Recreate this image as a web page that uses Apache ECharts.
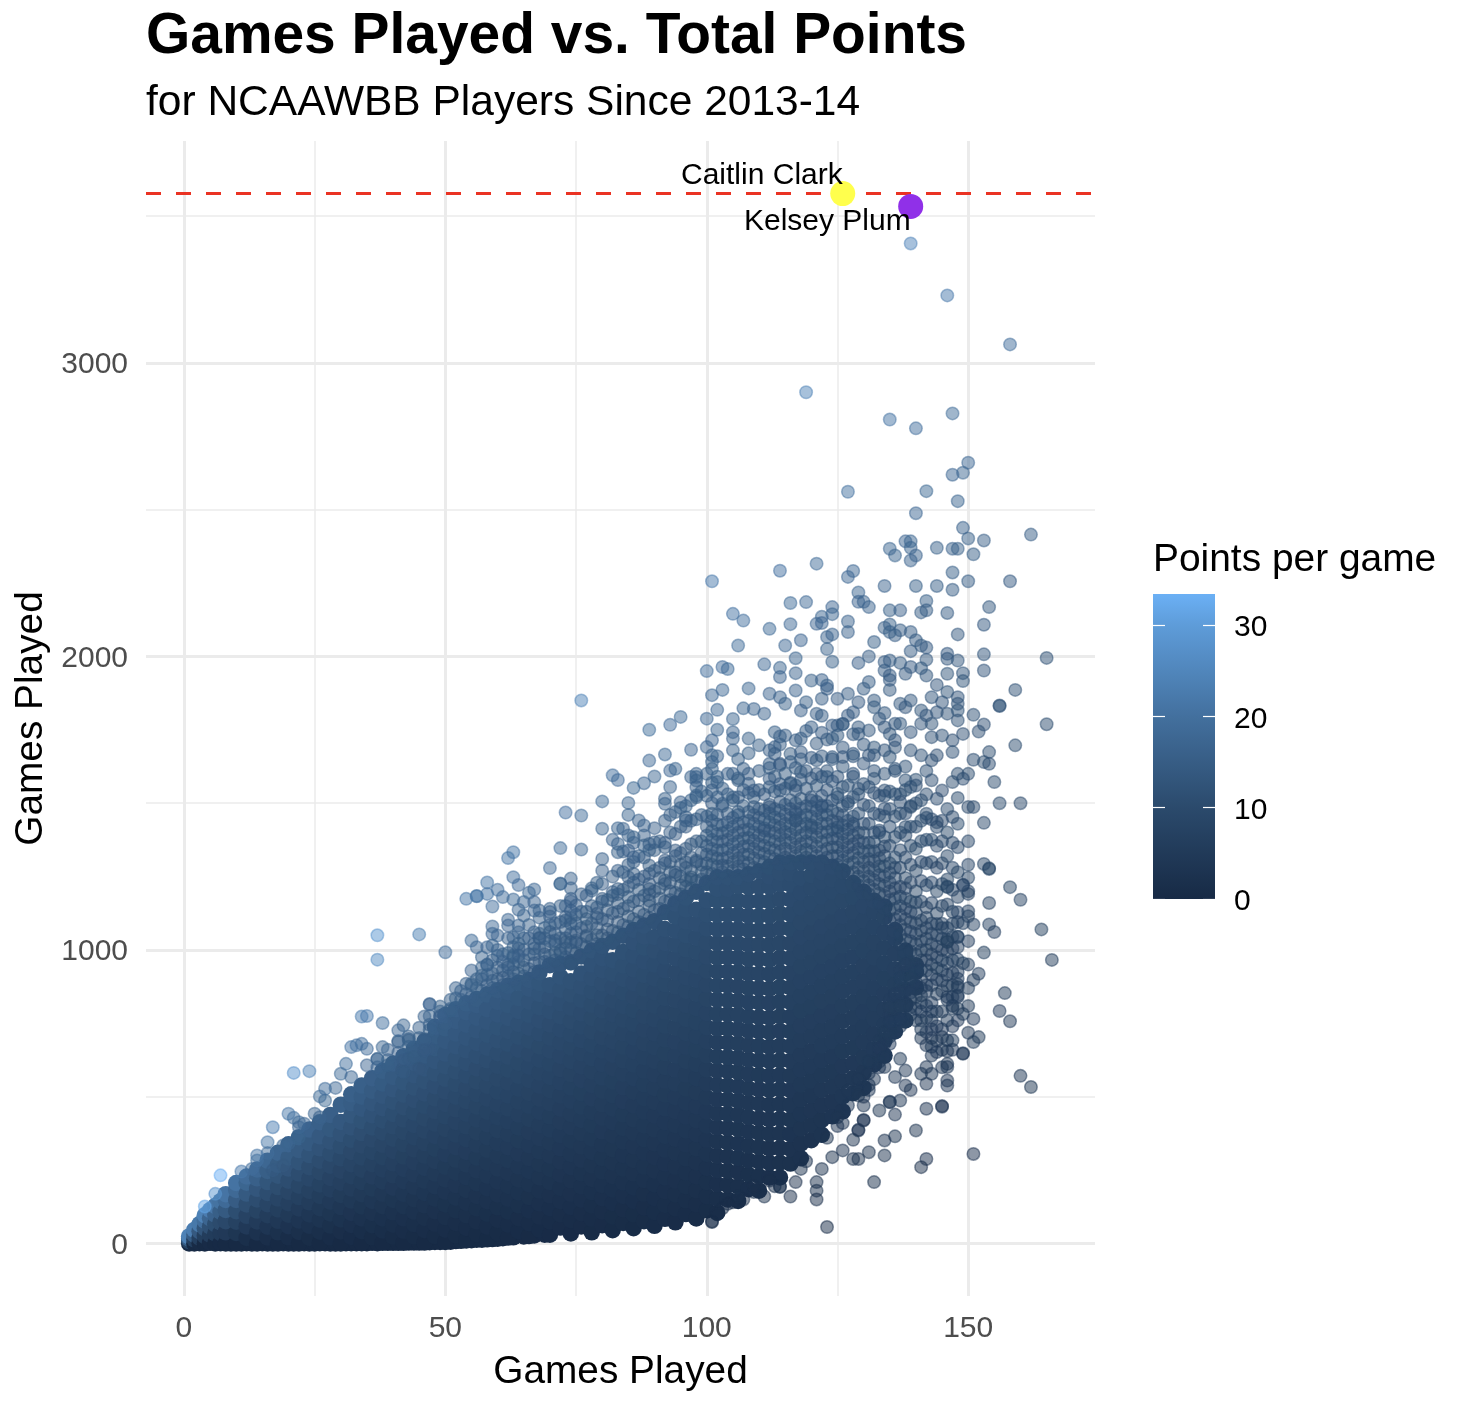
<!DOCTYPE html>
<html><head><meta charset="utf-8">
<style>html,body{margin:0;padding:0;background:#fff}#c{width:1460px;height:1402px}</style>
<script src="https://cdn.jsdelivr.net/npm/echarts@6/dist/echarts.min.js"></script>
</head><body><div id="c"></div>
<script>
const xMajorTicks=[0,50,100,150];
const xMinorTicks=[25,75,125];
const yMajorTicks=[0,1000,2000,3000];
const yMinorTicks=[500,1500,2500,3500];
const legendTicks=[0,10,20,30];
const ppgStops=[[0,'#172a45'],[10,'#2b4a6c'],[20,'#43709e'],[30,'#5e9cd9'],[33.4,'#6bb0f5']];
const clark=[126,3577];
const plum=[139,3533];
const referenceLine=3577;

// Dense cloud: individual players cannot be told apart there, so these rows are
// hand-typed estimates of the filled region, one row per games value: [games, totals...].
const zeroBand=[9,0,11,0,12,1,13,0,15,1,16,0,17,0,19,1,20,0,21,0,23,1,24,0,25,0,27,1,28,0,29,0,31,1,32,1,33,1,35,1,36,2,37,1,39,2,40,2,41,2,43,3,44,3,45,3,47,4,48,5,49,5,51,6,52,8,53,9,55,11,56,13,57,13,59,15,60,16,61,18,63,21,65,24,67,27,69,30];
const coreRows=[
[1,0,8,16,24],[2,0,14,30,46],[3,1,20,42,66],[4,0,26,52,78,96],[5,2,30,58,86,114],[6,0,34,66,98,128],[7,1,36,72,108,144],[8,0,38,76,114,148,168],
[10,0,36,74,110,148,182,206],[12,19,58,94,133,170,207,228],[14,0,37,75,112,150,186,222,252],[16,20,57,96,134,172,209,247,282],
[18,0,38,77,116,153,192,231,268,309],[20,21,59,98,137,176,214,255,293,338],[22,0,39,78,119,158,197,238,277,318,362],[24,19,60,99,140,179,221,260,301,342,388],
[26,1,40,81,120,162,201,243,282,324,365,413],[28,20,61,102,142,184,223,265,306,347,389,438],[30,0,41,82,124,165,207,248,290,331,373,414,473],[32,22,63,104,146,187,229,270,312,353,395,436,478,508],
[34,1,42,85,126,168,209,251,293,334,376,417,459,500,538],[36,21,62,104,145,187,228,270,312,354,395,437,478,520,563],[38,2,44,85,127,169,211,252,294,336,378,419,461,503,545,588],[40,23,64,106,148,190,232,273,315,357,399,441,483,525,567,613],
[42,2,43,85,127,169,212,254,296,338,380,422,464,507,549,591,638],[44,24,66,108,151,193,235,277,320,362,404,446,489,531,573,615,663],[46,3,45,87,130,172,214,257,299,342,384,426,469,511,553,596,640,688],[48,25,67,110,153,195,238,281,323,366,408,451,494,536,579,622,665,705,738],
[50,5,47,90,133,176,218,261,304,347,390,433,475,518,561,604,647,690,733,778],[52,27,70,113,156,199,242,285,328,371,414,457,500,543,586,629,672,715,758,798],[54,10,53,96,139,182,226,269,312,355,399,442,485,528,572,615,658,701,745,788,818],[56,32,75,119,162,205,249,292,336,379,422,466,509,552,596,639,683,726,769,812,833],
[58,14,57,101,144,188,231,275,319,362,406,449,493,537,580,624,667,711,755,798,848],[60,36,80,123,167,211,255,298,342,386,430,473,517,561,605,648,692,736,780,823,863],[62,20,64,108,152,196,240,284,328,372,416,460,504,548,592,636,680,724,768,812,856,878],[64,42,86,130,174,218,262,306,351,395,439,483,527,571,615,660,704,748,792,836,888],
[66,25,69,113,158,202,247,291,335,380,424,469,513,557,602,646,691,735,779,824,868,898],[68,47,91,136,180,225,270,314,359,403,448,493,537,582,626,671,716,760,805,850,887,923],[70,30,75,120,164,209,254,299,343,388,433,478,522,567,612,657,701,746,791,836,880,948],[72,54,99,144,189,234,279,324,369,414,459,504,549,594,639,684,729,774,819,864,909,953],
[74,34,79,124,169,215,260,305,350,396,441,486,531,577,622,667,712,758,803,848,893,958],[76,58,103,149,194,239,285,330,376,421,466,512,557,603,648,693,739,784,830,875,920,978],[78,38,84,129,175,220,266,312,357,403,448,494,540,585,631,676,722,768,813,859,904,950,998],[80,62,108,154,199,245,291,337,382,428,474,520,565,611,657,703,748,794,840,886,931,972,1013],
[82,45,91,137,183,229,275,321,367,413,459,505,551,597,643,689,735,781,827,873,919,965,1028],[84,70,116,162,208,255,301,347,393,439,485,532,578,624,670,716,762,809,855,901,947,993,1048],[86,52,99,145,191,238,284,331,377,423,470,516,563,609,655,702,748,795,841,887,934,980,1026,1068],[88,76,122,169,216,262,309,355,402,449,495,542,588,635,682,728,775,821,868,915,961,1008,1046,1083],
[90,60,107,154,201,248,294,341,388,435,482,529,575,622,669,716,763,810,856,903,950,997,1044,1098],[92,84,131,178,225,272,319,366,413,460,507,554,601,648,695,742,789,836,883,930,977,1024,1071,1128],[94,72,119,167,214,261,309,356,403,451,498,545,592,640,687,734,782,829,876,923,971,1018,1065,1113,1158],[96,100,147,195,242,290,337,385,432,480,527,575,622,670,717,765,812,860,907,955,1002,1050,1097,1138,1178],
[98,85,133,181,228,276,324,372,420,467,515,563,611,659,706,754,802,850,898,945,993,1041,1089,1137,1198],[100,113,161,209,257,305,353,401,449,497,545,593,641,689,737,785,833,881,929,977,1025,1073,1121,1169,1228],[102,105,153,202,250,298,347,395,443,491,540,588,636,685,733,781,830,878,926,974,1023,1071,1119,1168,1208,1248],[104,150,199,247,296,344,393,441,490,538,587,635,684,732,781,829,878,926,975,1023,1072,1120,1169,1208,1248],
[106,145,194,243,291,340,389,438,486,535,584,632,681,730,779,827,876,925,974,1022,1071,1120,1168,1217,1248],[108,185,234,283,332,381,430,479,528,577,626,675,724,773,822,871,920,969,1018,1067,1116,1165,1214,1258],[110,180,229,279,328,377,426,476,525,574,624,673,722,771,821,870,919,969,1018,1067,1116,1166,1215,1268],[112,225,274,324,373,423,472,522,571,621,670,720,769,819,868,918,967,1017,1066,1116,1165,1215,1250,1283],
[114,225,275,325,375,425,475,525,574,624,674,724,774,824,874,924,974,1024,1074,1124,1174,1224,1262,1298],[116,272,322,372,422,472,522,572,622,672,722,772,822,872,922,972,1022,1072,1122,1172,1222,1260,1298],[118,290,340,391,441,491,541,592,642,692,742,793,843,893,943,994,1044,1094,1144,1195,1245,1298],[120,352,403,453,504,554,605,655,706,756,807,857,908,958,1009,1059,1110,1160,1211,1255,1298],
[122,370,421,471,522,573,624,674,725,776,826,877,928,979,1029,1080,1131,1181,1232,1265,1298],[124,433,484,535,586,637,688,739,790,841,892,943,994,1045,1096,1147,1198,1240,1283],[126,450,501,553,604,655,706,758,809,860,911,963,1014,1065,1116,1168,1218,1268],[128,512,564,615,667,718,770,821,873,924,976,1027,1079,1130,1180,1228],
[130,530,582,634,686,738,789,841,893,945,997,1048,1100,1150,1198],[132,610,662,714,766,818,870,922,974,1026,1078,1130,1168],[134,640,692,745,797,850,902,955,1007,1060,1112,1148],[136,722,775,828,881,934,987,1040,1068],[138,760,813,866,920,973,998],[140,872,925,948]
];

// Thinner layers around the filled region, same row format.
const midRows=[
[37,600,628],[39,625,660],[41,650,690],[43,670,705],[45,700,735],[47,745,775],[49,790],[51,800,830],[53,830,860],[55,840,880,930],[57,860,900,940],[59,870,920,965],[61,880,930,985],[63,900,950,1010],[65,910,965,1040],[67,925,985,1060],[69,960,1010,1075],[71,965,1020,1090],[73,975,1040,1100,1150],[75,990,1060,1120],[77,1010,1080,1130],[79,1020,1075,1145],[81,1040,1100,1170],[83,1060,1130,1190,1270],[85,1080,1150,1215,1290],[87,1095,1170,1240,1320],[89,1110,1190,1260,1340],[91,1140,1210,1280,1370],[93,1170,1230,1300,1400,1460],[95,1190,1250,1330,1420],[97,1210,1270,1360,1440,1510],[99,1240,1290,1370,1460,1540],
[101,1260,1320,1375,1440,1500,1570],[103,1265,1310,1370,1425,1490,1550],[105,1270,1330,1390,1450,1520],[107,1275,1325,1380,1435,1490,1545],[109,1280,1345,1400,1460,1520],[111,1300,1355,1415,1475,1530],[113,1310,1370,1425,1480,1540,1590],[115,1315,1375,1430,1495,1550],[117,1320,1380,1440,1500,1560,1620],[119,1315,1370,1430,1490,1550,1610],[121,1320,1385,1445,1505,1560],[123,1315,1375,1430,1490,1545,1610],[125,1290,1350,1405,1465,1520,1590],[127,1260,1320,1380,1440,1505,1560],[129,1220,1280,1345,1400,1465,1530],[131,1190,1250,1310,1365,1430,1490,1555],[133,1160,1225,1285,1340,1400,1460,1525],[135,1100,1170,1230,1295,1355,1420,1480,1540],[137,1020,1085,1150,1215,1280,1340,1400,1465,1530],[139,960,1030,1095,1165,1230,1290,1355,1420,1490,1555],[141,900,965,1030,1100,1165,1235,1300,1370,1440,1510],[143,880,950,1020,1090,1160,1230,1300,1375,1445],[145,860,930,1000,1075,1150,1225,1295,1370,1440],[147,800,880,965,1045,1130,1205,1280,1365],
[125,400,430],[127,470,520],[129,520,560],[131,540,580,620],[133,600,640,690],[135,680,730,780,830],[137,740,790,830,880,930],[139,780,830,880,930],[141,700,760,820,870],[143,640,700,760,820],[145,600,660,730,790],[147,660,740,810],
[101,75],[103,120],[105,140],[107,150],[109,175],[113,195],[119,280],[123,360],
[52,835,870],[54,850,885],[56,870,900],[58,880,915,950],[60,900,940,980],[62,910,950,990,1040],[64,920,960,1005,1060],[66,935,985,1040,1085],[68,960,1005,1055,1110],[70,980,1030,1085,1140],[72,990,1040,1095,1150],[74,1000,1055,1110,1165,1210],[76,1020,1075,1130,1190],[78,1035,1090,1150,1210],[80,1050,1105,1165,1225,1270],[82,1065,1125,1185,1250],[84,1085,1140,1205,1265,1335],[86,1105,1165,1230,1300,1365],[88,1120,1185,1250,1315,1390],[90,1135,1200,1270,1340,1415],[92,1165,1225,1295,1365,1440],[94,1195,1255,1320,1395,1470],[96,1215,1280,1345,1420,1490],[98,1235,1300,1370,1445,1520,1600],
[100,1265,1325,1390,1455,1525,1600],[102,1285,1340,1395,1460,1520,1590,1660],[104,1285,1345,1405,1465,1530,1600],[106,1285,1340,1400,1460,1520,1585,1650],[108,1295,1355,1410,1470,1535,1600,1670],[110,1305,1360,1420,1480,1545,1610],[112,1320,1375,1435,1495,1555,1620,1680],[114,1335,1390,1445,1505,1565,1630,1700],[116,1335,1395,1450,1510,1570,1640],[118,1335,1390,1450,1515,1580,1650,1720],[120,1335,1395,1455,1520,1585,1655],[122,1335,1400,1460,1525,1590,1660,1740],[124,1320,1380,1440,1510,1575,1650,1720],[126,1305,1365,1425,1490,1555,1625,1690,1770],[128,1265,1330,1390,1455,1520,1590,1660,1735],[130,1235,1300,1365,1430,1495,1565,1635,1700],[132,1205,1270,1335,1400,1465,1535,1610,1690],[134,1185,1250,1320,1385,1455,1525,1600,1680],[136,1105,1175,1245,1315,1385,1455,1530,1610,1690],[138,1035,1105,1175,1245,1315,1390,1465,1545,1625],[140,985,1055,1125,1200,1270,1345,1420,1500,1580],[142,930,1000,1075,1145,1220,1295,1375,1450,1530,1610],[144,900,975,1050,1125,1200,1280,1355,1435,1515],[146,840,915,995,1075,1155,1240,1320,1400,1480],[148,760,840,925,1010,1095,1180,1265,1350,1430],[150,870,950,1030,1115,1200,1290,1370],
[126,410],[130,470,500],[132,560],[134,680,720],[136,760,800,850],[138,810,860,900,950],[140,760,800,840,890],[142,720,770,810,860,880],[144,690,740,790,850],[146,760,830]
];
const extraRows=[
[59,895],[61,905,960],[63,925,975],[65,940,1000],[67,955,1020],[69,985,1040],[71,990,1055],[73,1005,1070],[75,1025,1090],[77,1045,1105],[79,1050,1110],[81,1070,1135],[83,1095,1160],[85,1115,1180],[87,1130,1205],[89,1150,1225],[91,1175,1245],[93,1200,1265],[95,1220,1290],[97,1240,1315],[99,1265,1330],
[100,1295,1355,1420],[101,1290,1345,1405],[102,1312,1368,1428],[103,1288,1340,1398],[104,1315,1375,1435],[105,1300,1360,1420],[106,1312,1370,1430],[107,1300,1352,1408],[108,1325,1382,1440],[109,1312,1372,1430],[110,1332,1390,1450],[111,1328,1385,1445],[112,1347,1405,1465],[113,1340,1398,1452],[114,1362,1418,1475],[115,1345,1402,1462],[116,1365,1422,1480],[117,1350,1410,1470],[118,1362,1420,1482],[119,1342,1400,1460],[120,1365,1425,1488],[121,1352,1415,1475],[122,1368,1430,1492],[123,1345,1402,1460],[124,1350,1410,1475],[125,1320,1378,1435],[126,1335,1395,1458],[127,1290,1350,1410],[128,1298,1360,1422],[129,1250,1312,1372],[130,1268,1332,1398],[131,1220,1280,1338],[132,1238,1302,1368],[133,1192,1255,1312],[134,1218,1285,1352],[135,1135,1200,1262],[136,1140,1210,1280],[137,1052,1118,1182],[138,1070,1140,1210],[139,995,1062,1130],[140,1020,1090,1162],[141,932,998,1065],[142,965,1038,1110],[143,915,985,1055],[144,938,1012,1088],[145,895,965,1038],[146,878,955,1035],[147,840,922,1005],[148,800,882,968],
[133,620,665],[135,705,755,805],[137,765,810,855,905],[139,805,855,905],[141,730,790,845],[143,670,730,790]
];

// Individually visible players: [games, total, games, total...].
const upperTail=[139,3407,146,3230,158,3063,119,2900,135,2807,140,2777,147,2828,150,2660,149,2626,147,2619,127,2561,142,2563,148,2529,140,2488,149,2438,150,2402,153,2395,162,2415,135,2367,136,2344,138,2392,139,2392,139,2370,140,2344,139,2327,144,2370,147,2367,148,2367,151,2348,121,2316,114,2292,127,2271,128,2291,147,2286,150,2256,101,2256,158,2256,134,2240,140,2240,144,2240,147,2227,129,2218,129,2186,130,2186,131,2168,116,2182,119,2185,142,2189,142,2157,141,2150,135,2157,137,2157,124,2168,124,2144,154,2168,146,2148,105,2145,107,2122,122,2135,121,2111,122,2114,116,2110,112,2094,127,2119,127,2083,153,2108,134,2098,135,2109,135,2083,136,2072,137,2089,139,2083,140,2055,141,2037,142,2030,139,2018,148,2075,123,2066,124,2075,118,2055,115,2037,106,2037,132,2049,123,2025,117,1994,124,1982,129,1978,131,2000,134,1981,135,1986,137,1978,139,1964,146,2009,146,1992,148,1986,142,1989,153,2007,153,1952,165,1995,141,1960,142,1935,146,1941,149,1943,149,1916,134,1952,135,1935,135,1920,138,1941,111,1973,114,1961,114,1930,117,1943,100,1950,103,1964,104,1957,120,1918,122,1920,123,1901,123,1890,131,1913,130,1890,135,1886,144,1903,103,1886,101,1868,108,1891,112,1873,114,1861,115,1839,117,1884,122,1856,125,1856,127,1873,129,1844,119,1844,118,1816,159,1886,156,1833,156,1831,165,1769,102,1818,107,1823,109,1821,111,1805,100,1788,105,1787,102,1750,105,1742,105,1720,105,1680,108,1720,110,1697,100,1691,101,1714,101,1663,101,1640,101,1617,151,1801,153,1768,152,1744,149,1736,159,1697,147,1714,147,1674,154,1674,151,1648,153,1640,154,1634,155,1572,156,1500,160,1500,150,1600,149,1583,148,1518,150,1487,151,1487,153,1433,121,1805,122,1798,127,1799,128,1810,124,1765,125,1765,126,1770,113,1742,114,1727,115,1731,119,1746,120,1759,117,1714,121,1703,123,1717,125,1731,129,1759,129,1736,131,1748,132,1850,132,1827,134,1807,133,1788,137,1839,138,1827,139,1850,143,1861,145,1844,146,1879,148,1861,148,1839,144,1810,146,1805,148,1816,148,1782,141,1816,142,1799,141,1771,143,1771,145,1731,143,1725,136,1771,137,1771,139,1742,135,1736,136,1714,134,1759,113,1691,113,1668,116,1668,118,1674,121,1646,124,1657,126,1657,128,1668,131,1663,132,1663,135,1657,139,1680,141,1663,143,1646,144,1663,112,1634,114,1634,105,1600,107,1617,106,1578,108,1566,109,1543,102,1572,101,1544,101,1464,112,1583,115,1600,118,1606,121,1600,123,1589,116,1566,114,1543,117,1543,120,1509,125,1532,128,1600,129,1549,132,1583,134,1543,136,1617,138,1578,140,1560,143,1578,145,1543,147,1572,148,1600,137,1504,134,1481,127,1498,122,1487,117,1464,112,1487,109,1487,105,1509,103,1498,106,1470,111,1407,117,1441,120,1418,125,1418,128,1430,133,1407,138,1419,142,1464,147,1453,144,1419,139,1487];

const leftEdge=[76,1850,89,1750,93,1767,95,1794,97,1682,92,1666,89,1645,93,1611,94,1617,93,1555,90,1591,88,1568,86,1552,82,1595,83,1579,97,1589,98,1589,98,1577,98,1555,98,1526,92,1515,92,1498,95,1503,95,1484,85,1501,85,1460,80,1506,73,1468,76,1458,80,1413,83,1415,84,1413,85,1390,86,1384,87,1441,88,1424,96,1452,96,1441,82,1375,83,1361,83,1333,85,1339,86,1316,88,1356,89,1361,90,1367,92,1350,94,1339,72,1347,76,1342,80,1310,63,1333,62,1313,70,1279,72,1225,72,1226,74,1243,79,1229,78,1202,77,1185,63,1248,64,1221,58,1230,60,1205,56,1183,56,1184,54,1174,58,1191,61,1180,63,1172,66,1195,67,1206,59,1148,64,1137,65,1163,67,1163,65,1117,67,1134,68,1134,70,1129,70,1114,74,1174,75,1151,74,1134,73,1112,74,1089,80,1174,79,1123,82,1197,83,1208,86,1259,85,1248,89,1288,92,1305,94,1265,96,1237,97,1248,96,1299,98,1305,89,1208,89,1168,92,1237,59,1080,62,1103,62,1083,64,1083,59,1055,60,1049,55,1032,56,1009,58,1009,59,1015,60,1000,63,1043,64,1021,68,1041,68,1040,70,1061,71,1032,73,1026,74,1026,75,1032,77,1049,45,1053,50,992,57,975,58,949,63,981,64,981,62,941,57,913,55,885,67,1004,72,998,74,953,47,816,49,807,46,773,49,771,51,794,47,728,50,748,42,743,43,697,46,697,47,663,44,657,42,623,21,581,24,587,34,773,35,775,38,751,41,726,7,232,6,169,4,126,17,396,16,345,16,308,14,300,14,283,11,245,13,254,20,442,21,428,22,413,25,442,26,430,19,334,20,340,17,249,19,266,22,362,22,396,23,408,26,501,27,487,29,530,27,527,31,612,30,578,32,567,35,607,37,629,39,607,38,669,41,686,43,692,46,692,47,814,49,775,32,669,33,675,34,680,35,663,43,629,44,635,46,658,42,584,45,595,37,1050,37,967];

const rightEdge=[164,1070,166,966,160,1171,158,1214,154,1160,154,1087,155,1061,153,991,150,1132,148,1128,154,1276,154,1278,153,1293,150,1246,150,1191,149,1220,149,1222,146,1214,146,1216,145,1089,147,1089,149,1091,151,1087,148,1044,148,1046,146,1027,146,1029,149,955,152,919,151,898,148,902,148,873,148,845,150,809,149,782,151,765,157,853,156,792,158,757,150,718,152,703,151,686,149,646,149,648,160,571,162,533,146,692,145,703,147,692,146,612,146,601,146,555,146,538,142,675,144,652,146,655,142,601,143,578,142,544,141,578,145,468,145,466];
const lowerEdge=[142,459,140,385,151,305,142,288,141,260,136,365,134,351,134,300,132,209,123,56,121,209,121,180,121,150,131,311,129,288,128,288,130,419,130,421,129,385,129,387,128,353,131,523,129,504,135,481,135,483,133,453,136,439,137,487,139,523,138,538,136,567,134,601,134,635,137,629,138,589,116,160,111,160,114,192,114,194,117,209,112,214,109,195,106,160,104,135,102,99,101,73,122,254,118,254,124,294,126,317];

function ppgColor(ppg){
  const rgb=h=>[1,3,5].map(i=>parseInt(h.slice(i,i+2),16));
  let k=0;
  while(k<ppgStops.length-2&&ppg>ppgStops[k+1][0])k++;
  const [a,ca]=ppgStops[k],[b,cb]=ppgStops[k+1];
  const f=Math.min(1,Math.max(0,(ppg-a)/(b-a))),A=rgb(ca),B=rgb(cb);
  return 'rgb('+A.map((v,i)=>Math.round(v+(B[i]-v)*f)).join(',')+')';
}
function item(g,t){const c=ppgColor(t/g);return {value:[g,t],itemStyle:{color:c,borderColor:c}};}
function fromRows(rows){const o=[];rows.forEach(r=>{for(let i=1;i<r.length;i++)o.push(item(r[0],r[i]));});return o;}
function fromFlat(a){const o=[];for(let i=0;i<a.length;i+=2)o.push(item(a[i],a[i+1]));return o;}

const FONT='"Liberation Sans",Arial,sans-serif';
const xMin=-7.25,xMax=174.25,yMin=-179,yMax=3756;
const grid=(w)=>({show:true,lineStyle:{color:'#ebebeb',width:w}});
const plain=v=>String(v);
const chart=echarts.init(document.getElementById('c'),null,{renderer:'canvas'});
chart.setOption({
  animation:false,backgroundColor:'#fff',
  textStyle:{fontFamily:FONT},
  title:[
    {text:'Games Played vs. Total Points',left:146,top:9,padding:0,textStyle:{fontFamily:FONT,fontSize:56.9,fontWeight:'bold',color:'#000'}},
    {text:'for NCAAWBB Players Since 2013-14',left:146,top:82,padding:0,textStyle:{fontFamily:FONT,fontSize:42.5,fontWeight:'normal',color:'#000'}},
    {text:'Points per game',left:1153,top:541,padding:0,textStyle:{fontFamily:FONT,fontSize:38.9,fontWeight:'normal',color:'#000'}}
  ],
  grid:[
    {left:146,right:365,top:141,bottom:106,show:false,outerBoundsMode:'none',containLabel:false},
    {left:1153,width:62,top:594,height:305,show:true,borderWidth:0,outerBoundsMode:'none',containLabel:false,
     backgroundColor:new echarts.graphic.LinearGradient(0,1,0,0,ppgStops.map(s=>({offset:s[0]/33.4,color:s[1]})))}
  ],
  xAxis:[
    {type:'value',gridIndex:0,min:xMin,max:xMax,name:'Games Played',nameLocation:'middle',nameGap:57,
     nameTextStyle:{fontSize:38.8,color:'#000',fontFamily:FONT},
     axisLine:{show:false},axisTick:{show:false,customValues:xMajorTicks},
     axisLabel:{customValues:xMajorTicks,formatter:plain,fontSize:30,color:'#4d4d4d',margin:18,fontFamily:FONT},splitLine:grid(3)},
    {type:'value',gridIndex:0,min:xMin,max:xMax,axisLine:{show:false},axisTick:{show:false,customValues:xMinorTicks},
     axisLabel:{show:false},splitLine:grid(1.5)},
    {type:'value',gridIndex:1,min:0,max:1,show:false}
  ],
  yAxis:[
    {type:'value',gridIndex:0,min:yMin,max:yMax,name:'Games Played',nameLocation:'middle',nameGap:93,
     nameTextStyle:{fontSize:38.8,color:'#000',fontFamily:FONT},
     axisLine:{show:false},axisTick:{show:false,customValues:yMajorTicks},
     axisLabel:{customValues:yMajorTicks,formatter:plain,fontSize:30,color:'#4d4d4d',margin:18,verticalAlign:'top',lineHeight:4,fontFamily:FONT},splitLine:grid(3)},
    {type:'value',gridIndex:0,min:yMin,max:yMax,axisLine:{show:false},axisTick:{show:false,customValues:yMinorTicks},
     axisLabel:{show:false},splitLine:grid(1.5)},
    {type:'value',gridIndex:1,min:0,max:33.4,position:'left',axisLine:{show:false},
     axisTick:{show:true,inside:true,length:12,customValues:legendTicks,lineStyle:{color:'#fff',width:1.2}},
     axisLabel:{show:false},splitLine:{show:false}},
    {type:'value',gridIndex:1,min:0,max:33.4,position:'right',axisLine:{show:false},
     axisTick:{show:true,inside:true,length:12,customValues:legendTicks,lineStyle:{color:'#fff',width:1.2}},
     axisLabel:{customValues:legendTicks,formatter:plain,fontSize:30,color:'#000',margin:19,verticalAlign:'top',lineHeight:6,fontFamily:FONT},splitLine:{show:false}}
  ],
  series:[
    {type:'scatter',name:'core',xAxisIndex:0,yAxisIndex:0,symbolSize:16.5,silent:true,z:2,
     itemStyle:{opacity:1,borderWidth:0},data:fromFlat(zeroBand).concat(fromRows(coreRows))},
    {type:'scatter',name:'players',xAxisIndex:0,yAxisIndex:0,symbolSize:12.5,silent:true,z:3,
     itemStyle:{opacity:0.5,borderWidth:1.5},
     data:fromRows(midRows).concat(fromRows(extraRows),fromFlat(upperTail),fromFlat(leftEdge),fromFlat(rightEdge),fromFlat(lowerEdge))},
    {type:'scatter',name:'line',xAxisIndex:0,yAxisIndex:0,data:[],z:4,silent:true,
     markLine:{silent:true,symbol:'none',label:{show:false},z:4,
       lineStyle:{color:'#ea3323',width:3,type:[15,15]},data:[{yAxis:referenceLine}]}},
    {type:'scatter',name:'Caitlin Clark',xAxisIndex:0,yAxisIndex:0,symbolSize:25,z:6,silent:true,
     itemStyle:{color:'#ffff4d',opacity:1},data:[clark],
     label:{show:true,formatter:'Caitlin Clark',position:'inside',align:'right',verticalAlign:'middle',offset:[0,-18],fontSize:30,color:'#000',fontFamily:FONT}},
    {type:'scatter',name:'Kelsey Plum',xAxisIndex:0,yAxisIndex:0,symbolSize:25,z:6,silent:true,
     itemStyle:{color:'#9030e8',opacity:1},data:[plum],
     label:{show:true,formatter:'Kelsey Plum',position:'inside',align:'right',verticalAlign:'middle',offset:[0,15],fontSize:30,color:'#000',fontFamily:FONT}}
  ]
});
</script></body></html>
